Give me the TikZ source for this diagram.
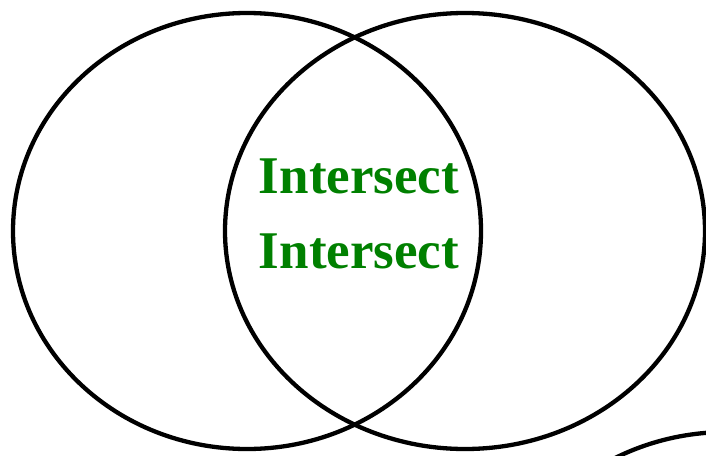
\documentclass[tikz,border=0pt]{standalone}
\usepackage{fontspec}
\setmainfont{Liberation Serif}
\definecolor{lblgreen}{RGB}{0,128,0}
\begin{document}
\begin{tikzpicture}[x=1pt,y=-1pt,
  venn/.style={draw=black,line width=4.3pt},
  lbl/.style={text=lblgreen,font=\fontsize{53}{60}\selectfont\bfseries,inner sep=0pt,anchor=base}]
\useasboundingbox (0,0) rectangle (706,455);
\clip (0,0) rectangle (706,455);
\draw[venn] (247,231) ellipse [x radius=234, y radius=218];
\draw[venn] (465,231) ellipse [x radius=240, y radius=218];
\draw[venn] (727,650) ellipse [x radius=236, y radius=218];
\node[lbl] (t1) at (359,193) {Intersect};
\node[lbl] (t2) at (359,268) {Intersect};
\end{tikzpicture}
\end{document}
